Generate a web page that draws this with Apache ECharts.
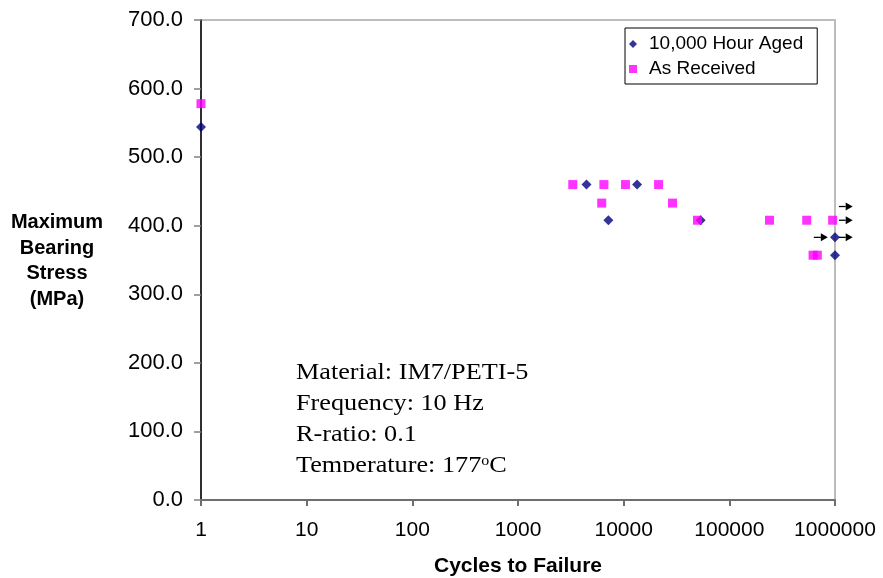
<!DOCTYPE html>
<html><head><meta charset="utf-8">
<script src="https://cdn.jsdelivr.net/npm/echarts@6/dist/echarts.min.js"></script>
<style>html,body{margin:0;padding:0;background:#fff}#c{width:883px;height:578px}</style>
</head><body><div id="c"></div>
<script>
const seriesNames = ['10,000 Hour Aged', 'As Received'];
const agedCycles = [1, 4450, 7170, 13400, 53500, 1000000, 1000000];
const agedStress = [544, 460, 408, 460, 408, 383, 357];
const receivedCycles = [1, 3300, 6200, 6500, 10400, 21400, 29000, 50000, 240000, 540000, 950000, 620000, 680000];
const receivedStress = [578, 460, 433, 460, 460, 460, 433, 408, 408, 408, 408, 357, 357];
const runoutFrom = [1090000, 1090000, 630000, 1090000];
const runoutTo = [1470000, 1470000, 855000, 1470000];
const runoutStress = [428, 408, 383, 383];
const yMin = 0, yMax = 700, yStep = 100;
const xMin = 1, xMax = 1000000;
const noteLines = ['Material: IM7/PETI-5', 'Frequency: 10 Hz', 'R-ratio: 0.1', 'Temperature: 177{sup|o}C'];
const yTitle = 'Maximum\nBearing\nStress\n(MPa)';
const xTitle = 'Cycles to Failure';

const zip = (a, b) => a.map((v, i) => [v, b[i]]);
const chart = echarts.init(document.getElementById('c'));
const noteGraphics = noteLines.map((t, i) => ({
  type: 'text', left: 296, top: 361 + i * 31, scaleX: 1.14, z: 5,
  style: {
    text: t, fill: '#000', font: '23px "Liberation Serif", "Times New Roman", serif',
    rich: { sup: { fontSize: 14, fontFamily: 'Liberation Serif', verticalAlign: 'top', padding: [0, 0, 10, 0] } }
  }
}));
chart.setOption({
  animation: false,
  grid: { left: 201, right: 48, top: 20, bottom: 78, outerBoundsMode: 'none', containLabel: false, show: true, borderColor: '#bdbdbd', borderWidth: 2, backgroundColor: 'transparent' },
  legend: {
    data: seriesNames, orient: 'vertical', left: 625, top: 28,
    padding: [6, 14, 5, 4], itemGap: 5, itemWidth: 8, itemHeight: 8,
    borderColor: '#000', borderWidth: 1, backgroundColor: '#fff',
    textStyle: { fontFamily: 'Liberation Sans, Arial', fontSize: 19, color: '#000', lineHeight: 20, padding: [0, 0, 0, 7] }
  },
  xAxis: {
    type: 'log', logBase: 10, min: xMin, max: xMax,
    name: xTitle, nameLocation: 'middle', nameGap: 56,
    nameTextStyle: { fontFamily: 'Liberation Sans, Arial', fontWeight: 'bold', fontSize: 21, color: '#000' },
    axisLine: { show: true, onZero: false, lineStyle: { color: '#6e6e6e', width: 2 } },
    axisTick: { show: true, length: 6, lineStyle: { color: '#6e6e6e', width: 2 } },
    minorTick: { show: false }, splitLine: { show: false },
    axisLabel: { margin: 20, fontFamily: 'Liberation Sans, Arial', fontSize: 21, color: '#000', formatter: v => String(Math.round(v)) }
  },
  yAxis: {
    type: 'value', min: yMin, max: yMax, interval: yStep,
    axisLine: { show: true, onZero: false, lineStyle: { color: '#000', width: 1.5 } },
    axisTick: { show: true, length: 7, lineStyle: { color: '#808080', width: 1.5 } },
    splitLine: { show: false },
    axisLabel: { margin: 18, fontFamily: 'Liberation Sans, Arial', fontSize: 22, color: '#000', formatter: v => v.toFixed(1) }
  },
  graphic: [
    {
      type: 'text', x: 57, y: 261, z: 5,
      style: { text: yTitle, fill: '#000', font: 'bold 20px "Liberation Sans", Arial', textAlign: 'center', textVerticalAlign: 'middle', lineHeight: 25.5 }
    },
    ...noteGraphics,
    { type: 'rect', left: 288, top: 472, z: 6, shape: { width: 260, height: 26 }, style: { fill: '#fff' } }
  ],
  series: [
    {
      name: seriesNames[0], type: 'scatter', symbol: 'diamond', symbolSize: 10, clip: false,
      itemStyle: { color: '#000080' }, data: zip(agedCycles, agedStress), z: 3
    },
    {
      name: seriesNames[1], type: 'scatter', symbol: 'rect', symbolSize: 9, clip: false,
      itemStyle: { color: '#ff00ff' }, data: zip(receivedCycles, receivedStress), z: 4
    },
    {
      name: 'runout', type: 'custom', clip: false, z: 5,
      encode: { x: [0, 1], y: 2 },
      data: runoutFrom.map((v, i) => [v, runoutTo[i], runoutStress[i]]),
      renderItem: (params, api) => {
        const p1 = api.coord([api.value(0), api.value(2)]);
        const p2 = api.coord([api.value(1), api.value(2)]);
        const hl = 7, hh = 4;
        return {
          type: 'group', children: [
            { type: 'line', shape: { x1: p1[0], y1: p1[1], x2: p2[0] - hl, y2: p2[1] }, style: { stroke: '#000', lineWidth: 1.3 } },
            { type: 'polygon', shape: { points: [[p2[0], p2[1]], [p2[0] - hl, p2[1] - hh], [p2[0] - hl, p2[1] + hh]] }, style: { fill: '#000' } }
          ]
        };
      }
    }
  ]
});
</script></body></html>
